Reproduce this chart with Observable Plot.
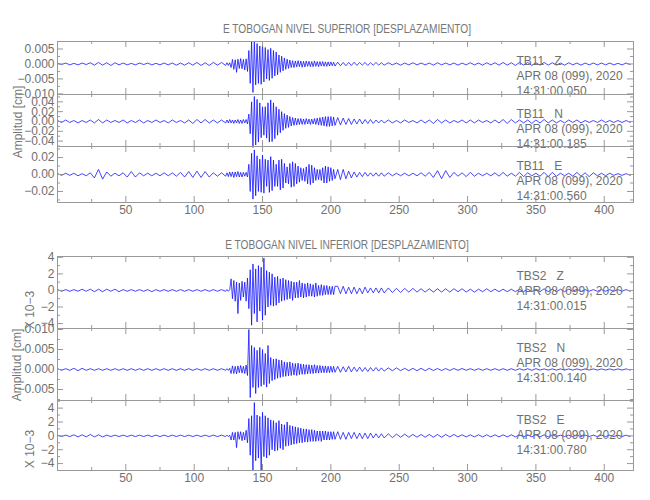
<!DOCTYPE html>
<html><head><meta charset="utf-8">
<script src="https://cdn.jsdelivr.net/npm/d3@7"></script>
<script src="https://cdn.jsdelivr.net/npm/@observablehq/plot@0.6"></script>
<style>
body{margin:0;background:#fff;}
#wrap{position:relative;width:650px;height:500px;overflow:hidden;font-family:"Liberation Sans",Arial,sans-serif;color:#777;}
#wrap svg{position:absolute;left:0;overflow:visible;background:transparent;}
.t{position:absolute;white-space:pre;line-height:1;transform:translate(-50%,-50%);}
.h{transform:translate(-50%,-50%) scaleX(0.78);}
.r{transform:translate(-50%,-50%) rotate(-90deg);}
</style></head>
<body><div id="wrap"></div>
<script>
// sample times (s): quiet part every 3 s, strong motion every 1 s, coda every 2-3 s
const tPre = d3.range(0, 124, 3);
const tMain = d3.range(124, 204, 1);
const tPost = d3.range(205, 240, 2);
const tTail = d3.range(242, 420, 3);
const times = [...tPre, ...tMain, ...tPost, ...tTail];

// displacement values in 10^-3 cm
const tb11z = [
0.2,-0.2,0.3,-0.3,0.2,-0.3,0.3,-0.2,0.4,-0.4,
0.5,-0.4,0.4,-0.5,0.4,-0.3,0.3,-0.3,0.2,-0.3,
0.3,-0.2,0.3,-0.3,0.2,-0.3,0.3,-0.3,0.3,-0.4,
0.3,-0.4,0.4,-0.4,0.5,-0.5,0.4,-0.5,0.5,-0.4,
0.5,-0.5,
0.4,-0.5,0.4,-1.2,1.5,-1.8,1.4,-2.8,1.6,-1.5,
1.8,-1.6,1.5,-2.0,1.7,-2.5,4.5,-6.5,7.5,-9.5,
7.5,-7.0,6.8,-6.5,6.0,-6.8,6.7,-6.0,5.5,-5.0,
4.8,-5.5,5.2,-4.8,4.5,-4.0,4.0,-3.6,3.0,-2.8,
2.6,-2.3,2.0,-1.8,1.6,-1.5,1.3,-1.2,1.1,-1.2,
1.0,-1.0,1.1,-0.9,1.0,-1.1,0.9,-1.0,1.0,-0.8,
0.9,-0.9,0.8,-0.9,1.0,-0.8,0.8,-0.9,0.8,-0.7,
0.8,-0.8,0.7,-0.8,0.7,-0.7,0.7,-0.6,0.6,-0.7,
0.6,-0.6,0.5,-0.6,0.5,-0.5,0.6,-0.5,0.5,-0.4,
0.5,-0.5,0.4,-0.4,0.5,-0.4,0.4,-0.4,
0.4,-0.3,0.3,-0.4,0.3,-0.3,0.4,-0.3,0.3,-0.3,
0.3,-0.4,0.4,-0.3,0.3,-0.3,0.3,-0.4,0.3,-0.3,
0.4,-0.3,0.3,-0.4,0.4,-0.3,0.4,-0.4,0.5,-0.4,
0.4,-0.5,0.5,-0.4,0.5,-0.5,0.4,-0.4,0.5,-0.4,
0.4,-0.4,0.3,-0.4,0.4,-0.3,0.3,-0.4,0.3,-0.3,
0.3,-0.3,0.3,-0.3,0.3,-0.3,0.2,-0.3,0.3,-0.2];

const tb11n = [
2,-2,3,-2,2,-3,2,-2,3,-3,
4,-3,3,-2,2,-2,3,-3,2,-2,
3,-3,2,-2,3,-2,2,-3,3,-2,
2,-3,3,-4,4,-3,4,-3,3,-3,
3,-3,
3,-3,4,-3,3,-4,3,-3,4,-4,
3,-4,4,-3,4,-5,15,-25,40,-53,
51,-48,45,-42,38,-33,30,-28,30,-34,
38,-42,44,-41,38,-35,30,-28,25,-23,
20,-18,16,-14,13,-12,10,-9,8,-8,
7,-7,6,-6,6,-6,5,-6,6,-5,
5,-6,5,-5,6,-6,7,-7,8,-8,
9,-9,10,-10,10,-10,10,-9,9,-8,
8,-7,7,-6,6,-6,5,-5,5,-5,
4,-4,4,-4,3,-3,3,-3,
3,-3,2,-3,3,-2,2,-3,3,-3,
3,-4,4,-3,3,-3,2,-2,3,-3,
3,-3,3,-2,2,-3,3,-3,4,-4,
4,-3,3,-3,3,-4,3,-3,4,-3,
3,-3,2,-3,3,-2,3,-3,2,-2,
2,-2,3,-2,2,-2,2,-2,2,-2];

const tb11e = [
1,-1,1.5,-1,1.5,-1.5,1,-1.5,2,-4,
6,-5.5,3,-2,1.5,-1.5,2,-3,3.5,-3,
2,-1.5,1.5,-1.5,1.5,-1.5,2,-1.5,2,-2,
2.5,-3,3.5,-3.5,4,-3.5,3.5,-3,2,-2,
2,-2,
2,-2.5,3,-2.5,3,-3.5,3,-2.5,3.5,-3,
2.5,-3,2.5,-2,2.5,-3,12,-20,25,-29,
29,-25,22,-20,18,-21,23,-22,18,-14,
17,-21,21,-19,17,-14,12,-14,17,-18,
18,-16,13,-10,9,-11,13,-15,15,-14,
13,-11,10,-9,8,-7,7,-8,9,-11,
12,-12,11,-10,8,-7,6,-6,6,-7,
8,-10,10,-10,9,-8,8,-7,6,-5,
6,-6,6,-5,4,-4,3,-3,2.5,-2.5,
2.5,-2,2,-2,2,-2,2,-2,
2,-1.5,1.5,-1.5,1.5,-1.5,1.5,-1.5,2,-2,
2.5,-3.5,4.5,-5,4.5,-3.5,2.5,-2,2,-2.5,
2.5,-2,1.5,-1.5,1.5,-1.5,2,-2,2.5,-2,
1.5,-2,2.5,-2.5,2,-1.5,1.5,-2,2.5,-2.5,
2.5,-2,1.5,-1.5,1.5,-2,2.5,-2,2,-2.5,
2,-1.5,1.5,-1.5,1.5,-1,1,-1,1,-1];

const tbs2z = [
0.1,-0.1,0.1,-0.1,0.1,-0.1,0.15,-0.1,0.15,-0.15,
0.15,-0.15,0.15,-0.1,0.15,-0.15,0.1,-0.1,0.1,-0.1,
0.1,-0.1,0.1,-0.15,0.1,-0.1,0.1,-0.1,0.1,-0.1,
0.1,-0.1,0.1,-0.1,0.1,-0.1,0.1,-0.1,0.1,-0.1,
0.1,-0.1,
0.1,-0.1,0.1,1.4,-1.0,1.2,-1.3,1.0,-2.8,0.9,
-1.2,1.1,-0.8,1.0,-1.3,1.5,-2.2,2.5,-4.2,3.2,
-2.8,2.6,-3.8,3.0,-2.5,2.8,-3.6,3.9,-3.0,2.4,
-2.0,2.2,-1.8,2.0,-1.9,1.6,-1.8,1.7,-1.5,1.4,
-1.3,1.5,-1.2,1.3,-1.1,1.2,-1.0,1.1,-1.2,1.0,
-0.9,1.0,-0.9,1.2,-0.8,0.9,-0.9,0.8,-0.8,0.9,
-0.7,0.8,-0.7,0.7,-0.8,0.9,-0.7,0.6,-0.6,0.7,
-0.6,0.6,-0.5,0.6,-0.5,0.5,-0.5,0.5,-0.5,0.5,
0.5,-0.4,0.5,-0.4,0.4,-0.4,0.4,-0.4,0.3,-0.4,
0.4,-0.3,0.3,-0.3,0.3,-0.3,0.3,-0.3,
0.3,-0.25,0.25,-0.25,0.25,-0.2,0.25,-0.2,0.2,-0.2,
0.2,-0.2,0.2,-0.2,0.2,-0.2,0.2,-0.15,0.2,-0.2,
0.15,-0.2,0.15,-0.15,0.2,-0.15,0.15,-0.15,0.15,-0.15,
0.15,-0.15,0.15,-0.15,0.15,-0.15,0.15,-0.15,0.2,-0.15,
0.15,-0.15,0.15,-0.15,0.15,-0.1,0.15,-0.15,0.1,-0.1,
0.1,-0.1,0.1,-0.1,0.1,-0.1,0.1,-0.1,0.1,-0.1];

const tbs2n = [
0.2,-0.2,0.2,-0.2,0.3,-0.3,0.3,-0.2,0.2,-0.2,
0.2,-0.2,0.2,-0.2,0.2,-0.2,0.2,-0.2,0.2,-0.2,
0.2,-0.2,0.2,-0.2,0.2,-0.2,0.2,-0.2,0.2,-0.2,
0.2,-0.2,0.2,-0.2,0.2,-0.2,0.2,-0.2,0.2,-0.2,
0.2,-0.2,
0.2,-0.2,0.3,-1.0,0.9,-1.0,0.8,-1.1,0.9,-0.8,
1.0,-0.9,0.8,-1.0,1.1,-1.5,10.0,-7.0,6.0,-4.5,
5.5,-6.0,4.8,-4.5,5.5,-4.2,5.0,-3.8,4.0,-4.4,
6.0,-3.5,3.0,-2.8,2.6,-2.5,2.7,-2.2,2.4,-2.0,
2.3,-1.8,1.9,-1.7,1.8,-1.6,1.9,-1.5,1.6,-1.4,
1.5,-1.5,1.6,-1.3,1.4,-1.2,1.3,-1.2,1.2,-1.1,
1.2,-1.0,1.1,-1.0,1.2,-0.9,1.0,-0.9,1.0,-0.8,
0.9,-0.8,0.9,-0.8,0.8,-0.8,0.8,-0.7,0.8,-0.7,
0.8,-0.7,0.7,-0.6,0.8,-0.6,0.6,-0.5,0.6,-0.5,
0.5,-0.5,0.5,-0.4,0.5,-0.4,0.4,-0.4,
0.4,-0.3,0.4,-0.3,0.3,-0.3,0.3,-0.3,0.3,-0.3,
0.3,-0.25,0.25,-0.25,0.25,-0.25,0.25,-0.2,0.25,-0.2,
0.2,-0.2,0.2,-0.2,0.2,-0.2,0.2,-0.2,0.2,-0.2,
0.2,-0.2,0.2,-0.15,0.2,-0.2,0.2,-0.15,0.15,-0.15,
0.15,-0.15,0.15,-0.15,0.15,-0.15,0.15,-0.15,0.15,-0.15,
0.15,-0.15,0.15,-0.15,0.15,-0.15,0.15,-0.15,0.15,-0.15];

const tbs2e = [
0.1,-0.1,0.1,-0.1,0.15,-0.15,0.15,-0.15,0.2,-0.15,
0.15,-0.15,0.1,-0.1,0.1,-0.1,0.1,-0.1,0.1,-0.1,
0.1,-0.1,0.1,-0.1,0.1,-0.1,0.1,-0.1,0.1,-0.1,
0.1,-0.1,0.1,-0.1,0.1,-0.1,0.1,-0.1,0.1,-0.1,
0.1,-0.1,
0.1,-0.1,0.1,-0.6,0.5,-0.6,0.5,-1.7,0.6,-0.5,
0.6,-0.7,0.5,-0.6,0.8,-1.0,2.5,-2.8,2.9,-5.0,
4.8,-3.6,3.0,-3.2,2.8,-5.0,3.4,-3.0,2.9,-3.2,
2.6,-2.8,2.3,-2.0,2.2,-2.2,1.9,-2.1,2.2,-1.8,
1.7,-2.0,1.6,-1.5,2.0,-1.4,1.5,-1.3,1.4,-1.2,
1.3,-1.1,1.2,-1.0,1.1,-1.0,1.0,-0.9,1.0,-0.9,
0.9,-0.8,0.9,-0.8,0.8,-0.8,0.7,-0.7,0.7,-0.8,
0.7,-0.6,0.7,-0.6,0.6,-0.6,0.6,-0.5,0.6,-0.5,
0.6,-0.5,0.5,-0.5,0.5,-0.4,0.5,-0.4,0.4,-0.4,
0.4,-0.4,0.4,-0.3,0.3,-0.3,0.3,-0.3,
0.3,-0.25,0.25,-0.2,0.25,-0.2,0.2,-0.2,0.2,-0.2,
0.2,-0.2,0.2,-0.2,0.2,-0.15,0.2,-0.15,0.15,-0.15,
0.15,-0.15,0.15,-0.15,0.15,-0.15,0.15,-0.15,0.15,-0.15,
0.15,-0.15,0.15,-0.15,0.15,-0.15,0.15,-0.15,0.15,-0.15,
0.15,-0.1,0.1,-0.1,0.1,-0.1,0.1,-0.1,0.1,-0.1,
0.1,-0.1,0.1,-0.1,0.1,-0.1,0.1,-0.1,0.1,-0.1];

const titles = ["E TOBOGAN NIVEL SUPERIOR [DESPLAZAMIENTO]", "E TOBOGAN NIVEL INFERIOR [DESPLAZAMIENTO]"];
const stations = ["TB11", "TB11", "TB11", "TBS2", "TBS2", "TBS2"];
const components = ["Z", "N", "E", "Z", "N", "E"];
const dateLabel = "APR 08 (099), 2020";
const startTimes = ["14:31:00.050", "14:31:00.185", "14:31:00.560", "14:31:00.015", "14:31:00.140", "14:31:00.780"];
const xTicks = [50, 100, 150, 200, 250, 300, 350, 400];
const xMinor = [25, 75, 125, 175, 225, 275, 325, 375];

const traces = [tb11z, tb11n, tb11e, tbs2z, tbs2n, tbs2e];
const f3 = d => d3.format(".3f")(d / 1000);
const f2 = d => d3.format(".2f")(d / 1000);
const f0 = d => d3.format("d")(d);
const layout = [
  {top: 41, h: 53, domain: [-10.2, 7.5], major: [-10, -5, 0, 5], minor: [-7.5, -2.5, 2.5], fmt: f3},
  {top: 94, h: 52, domain: [-51, 55], major: [-40, -20, 0, 20, 40], minor: [-50, -30, -10, 10, 30, 50], fmt: f2},
  {top: 146, h: 56, domain: [-33, 33], major: [-20, 0, 20], minor: [-30, -10, 10, 30], fmt: f2, axis: true},
  {top: 256, h: 72, domain: [-4.6, 4.1], major: [-4, -2, 0, 2, 4], minor: [-3, -1, 1, 3], fmt: f0},
  {top: 328, h: 72, domain: [-7.75, 10.25], major: [-5, 0, 5, 10], minor: [-7.5, -2.5, 2.5, 7.5], fmt: f3},
  {top: 400, h: 70, domain: [-5, 5.1], major: [-4, -2, 0, 2, 4], minor: [-5, -3, -1, 1, 3, 5], fmt: f0, axis: true}
];

const wrap = document.getElementById("wrap");
const W = 650, ML = 57, MR = 17, IW = W - ML - MR;
const grey = "#999", txt = "#707070";

layout.forEach((p, k) => {
  const rows = traces[k].map((v, i) => ({t: times[i], v})).filter(d => d.t !== undefined);
  const mb = p.axis ? 24 : 0;
  const note = {frameAnchor: "top-left", dx: 459, textAnchor: "start", lineAnchor: "middle", fill: txt};
  const marks = [
    Plot.line(rows, {x: "t", y: "v", stroke: "#0a0aff", strokeWidth: 0.75}),
    Plot.frame({stroke: grey}),
    Plot.ruleX(xTicks, {x: d => d, stroke: grey, insetBottom: p.h - 6}),
    Plot.ruleX(xMinor, {x: d => d, stroke: grey, insetBottom: p.h - 3}),
    Plot.ruleX(xTicks, {x: d => d, stroke: grey, insetTop: p.h - 6}),
    Plot.ruleX(xMinor, {x: d => d, stroke: grey, insetTop: p.h - 3}),
    Plot.ruleY(p.major, {y: d => d, stroke: grey, insetRight: IW - 6}),
    Plot.ruleY(p.minor, {y: d => d, stroke: grey, insetRight: IW - 3}),
    Plot.ruleY(p.major, {y: d => d, stroke: grey, insetLeft: IW - 6}),
    Plot.ruleY(p.minor, {y: d => d, stroke: grey, insetLeft: IW - 3}),
    Plot.axisY({ticks: p.major, tickFormat: p.fmt, tickSize: 0, tickPadding: 3, label: null, fill: txt}),
    Plot.text([stations[k] + "\u00a0\u00a0\u00a0" + components[k]], {...note, dy: 20}),
    Plot.text([dateLabel], {...note, dy: 35}),
    Plot.text([startTimes[k]], {...note, dy: 49.5})
  ];
  if (p.axis) marks.push(Plot.axisX({anchor: "bottom", ticks: xTicks, tickSize: 0, tickPadding: 3, label: null, fill: txt}));
  const svg = Plot.plot({
    width: W, height: p.h + mb,
    marginLeft: ML, marginRight: MR, marginTop: 0, marginBottom: mb,
    x: {domain: [0, 421.4], axis: null},
    y: {domain: p.domain, axis: null},
    style: {fontFamily: "'Liberation Sans', Arial, sans-serif", fontSize: "12px", color: txt, background: "transparent", overflow: "visible"},
    marks
  });
  svg.style.top = p.top + "px";
  wrap.appendChild(svg);
});

function label(text, x, y, cls, size) {
  const d = document.createElement("div");
  d.className = "t " + cls;
  d.textContent = text;
  d.style.left = x + "px";
  d.style.top = y + "px";
  d.style.fontSize = size + "px";
  wrap.appendChild(d);
}
label(titles[0], 347, 28, "h", 13);
label(titles[1], 347, 244, "h", 13);
label("Amplitud [cm]", 18, 122, "r", 12);
label("Amplitud [cm]", 17, 365, "r", 12);
label("X 10\u22123", 30, 310, "r", 12);
label("X 10\u22123", 30, 449, "r", 12);
</script></body></html>
